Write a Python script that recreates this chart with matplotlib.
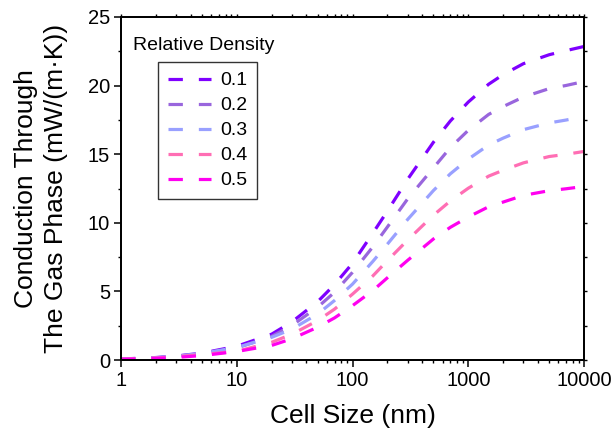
import matplotlib
matplotlib.use("Agg")
import matplotlib.pyplot as plt
from matplotlib.ticker import MultipleLocator, LogLocator, NullFormatter, FixedLocator, FixedFormatter

plt.rcParams['font.family'] = ['Liberation Sans', 'DejaVu Sans']

cell_size = [1, 2, 3, 5, 10, 20, 30, 50, 70, 100, 150, 200, 300, 500, 700,
             1000, 1500, 2000, 3000, 5000, 7000, 10000]
rho_01 = [0.07, 0.18, 0.29, 0.50, 1.00, 1.88, 2.78, 4.25, 5.50, 7.05, 9.25, 10.85,
          13.18, 15.87, 17.42, 18.80, 20.10, 20.80, 21.60, 22.25, 22.55, 22.85]
rho_02 = [0.06, 0.16, 0.26, 0.47, 0.88, 1.72, 2.52, 3.85, 4.94, 6.39, 8.25, 9.69,
          11.75, 14.00, 15.48, 16.74, 17.90, 18.47, 19.17, 19.78, 20.01, 20.30]
rho_03 = [0.06, 0.17, 0.27, 0.48, 0.91, 1.65, 2.25, 3.35, 4.34, 5.53, 7.19, 8.44,
          10.25, 12.35, 13.57, 14.64, 15.67, 16.17, 16.79, 17.28, 17.49, 17.75]
rho_04 = [0.06, 0.15, 0.24, 0.40, 0.63, 1.29, 1.88, 2.87, 3.71, 4.80, 6.13, 7.24,
          8.75, 10.55, 11.59, 12.52, 13.40, 13.83, 14.37, 14.83, 14.99, 15.20]
rho_05 = [0.05, 0.12, 0.19, 0.32, 0.62, 1.06, 1.55, 2.39, 3.07, 3.96, 5.06, 5.99,
          7.27, 8.82, 9.67, 10.42, 11.17, 11.51, 12.00, 12.34, 12.48, 12.65]
labels = ['0.1', '0.2', '0.3', '0.4', '0.5']
colors = ['#7F00FF', '#9966DD', '#99A0FF', '#FF6EB4', '#FF00F0']
series = [rho_01, rho_02, rho_03, rho_04, rho_05]
x_ticks = [1, 10, 100, 1000, 10000]
x_ticklabels = ['1', '10', '100', '1000', '10000']

W, H = 614, 434
fig = plt.figure(figsize=(W / 100, H / 100), dpi=100)
ax = fig.add_axes([121 / W, 1 - 360 / H, (584 - 121) / W, (360 - 17) / H])

lines = []
for ys, lab, c in zip(series, labels, colors):
    ln, = ax.plot(cell_size, ys, color=c, lw=2.3, linestyle=(0, (4.5, 5.0)),
                  label=lab, solid_capstyle='butt', dash_capstyle='butt')
    lines.append(ln)

ax.set_xscale('log')
ax.set_xlim(1, 10000)
ax.set_ylim(0, 25)
ax.xaxis.set_major_locator(FixedLocator(x_ticks))
ax.xaxis.set_major_formatter(FixedFormatter(x_ticklabels))
ax.xaxis.set_minor_locator(LogLocator(base=10, subs=range(2, 10), numticks=20))
ax.xaxis.set_minor_formatter(NullFormatter())
ax.yaxis.set_major_locator(MultipleLocator(5))
ax.yaxis.set_minor_locator(MultipleLocator(2.5))

for s in ax.spines.values():
    s.set_linewidth(1.1)
ax.tick_params(which='major', direction='out', length=5, width=1.1, labelsize=14.5, pad=3)
ax.tick_params(which='minor', direction='out', length=2.5, width=1.0)

# mirrored short ticks on top and right
axr = ax.twinx()
axr.set_ylim(0, 25)
axr.yaxis.set_major_locator(MultipleLocator(5))
axr.yaxis.set_minor_locator(MultipleLocator(2.5))
axr.tick_params(which='both', direction='out', length=2, width=1.0, labelright=False)
axt = ax.twiny()
axt.set_xscale('log')
axt.set_xlim(1, 10000)
axt.xaxis.set_major_locator(FixedLocator(x_ticks))
axt.xaxis.set_minor_locator(LogLocator(base=10, subs=range(2, 10), numticks=20))
axt.xaxis.set_minor_formatter(NullFormatter())
axt.tick_params(which='both', direction='out', length=2, width=1.0, labeltop=False)
for a in (axr, axt):
    for s in a.spines.values():
        s.set_linewidth(1.1)

ax.set_xlabel('Cell Size (nm)', fontsize=19, labelpad=10)
ax.set_ylabel('Conduction Through\nThe Gas Phase (mW/(m\u00b7K))', fontsize=19,
              labelpad=14, linespacing=1.35)

fig.text(133 / W, 1 - 45 / H, 'Relative Density', fontsize=14, va='center', ha='left')
leg = ax.legend(handles=lines, loc='upper left',
                bbox_to_anchor=(158 / W, 1 - 62 / H), bbox_transform=fig.transFigure,
                fontsize=14, frameon=True, fancybox=False, handlelength=2.2,
                handletextpad=0.5, labelspacing=0.38, borderpad=0.5,
                borderaxespad=0)
leg.get_frame().set_edgecolor('black')
leg.get_frame().set_linewidth(1.0)

fig.savefig('out.png', dpi=100)
